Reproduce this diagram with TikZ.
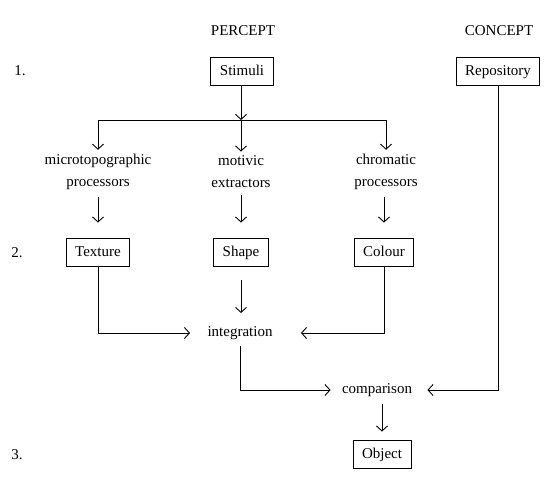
\documentclass[tikz,border=0pt]{standalone}
\usepackage{fontspec}
\setmainfont{Liberation Serif}
\usetikzlibrary{arrows.meta}
\begin{document}
\begin{tikzpicture}[x=1pt,y=-1pt,line width=0.9pt,
  box/.style={draw, line width=0.9pt, minimum height=28pt, inner xsep=9pt, inner ysep=0pt, text height=10pt, text depth=1pt, font=\fontsize{15}{18}\selectfont},
  lbl/.style={align=center, font=\fontsize{15}{22}\selectfont, inner sep=0pt},
  arr/.style={-{Straight Barb[length=5pt,width=11pt]}}]
\useasboundingbox (0,0) rectangle (559,480);
% headers and row numbers
\node[lbl] (percept) at (243,31) {PERCEPT};
\node[lbl] (concept) at (499,31) {CONCEPT};
\node[lbl] (n1) at (20,71) {1.};
\node[lbl] (n2) at (17,253) {2.};
\node[lbl] (n3) at (17,455) {3.};
% boxes
\node[box] (stim) at (242,71) {Stimuli};
\node[box] (repo) at (498,71) {Repository};
\node[box] (tex) at (98,252) {Texture};
\node[box] (shape) at (241,252) {Shape};
\node[box] (col) at (384,252) {Colour};
\node[box] (obj) at (382,454) {Object};
% labels
\node[lbl] (micro) at (98,172) {microtopographic\\processors};
\node[lbl] (motiv) at (241,172) {motivic\\extractors};
\node[lbl] (chrom) at (386,172) {chromatic\\processors};
\node[lbl] (integ) at (240,333) {integration};
\node[lbl] (comp) at (377,390) {comparison};
% split
\coordinate (split) at (241,120);
\coordinate (sl) at (98,120);
\coordinate (sr) at (386,120);
\draw[arr] (stim.south -| split) -- (split);
\draw (sl) -- (sr);
\draw[arr, shorten >=4pt] (sl) -- (sl |- micro.north);
\draw[arr, shorten >=4pt] (split) -- (split |- motiv.north);
\draw[arr, shorten >=4pt] (sr) -- (sr |- chrom.north);
% to boxes
\draw[arr, shorten <=7pt, shorten >=15pt] (micro.south -| tex) -- (tex.north);
\draw[arr, shorten <=7pt, shorten >=15pt] (motiv.south) -- (shape.north);
\draw[arr, shorten <=7pt, shorten >=15pt] (chrom.south -| col) -- (col.north);
% integration
\draw[arr, shorten <=14pt, shorten >=13pt] (shape.south) -- (integ.north -| shape);
\draw[arr, shorten >=17pt] (tex.south) -- (tex.south |- integ.west) -- (integ.west);
\draw[arr, shorten >=28pt] (col.south) -- (col.south |- integ.east) -- (integ.east);
% comparison
\draw[arr, shorten <=6pt, shorten >=11pt] (integ.south) -- (integ.south |- comp.west) -- (comp.west);
\draw[arr, shorten >=15pt] (repo.south) -- (repo.south |- comp.east) -- (comp.east);
\draw[arr, shorten <=7pt, shorten >=8pt] (comp.south -| obj) -- (obj.north);
\end{tikzpicture}
\end{document}
